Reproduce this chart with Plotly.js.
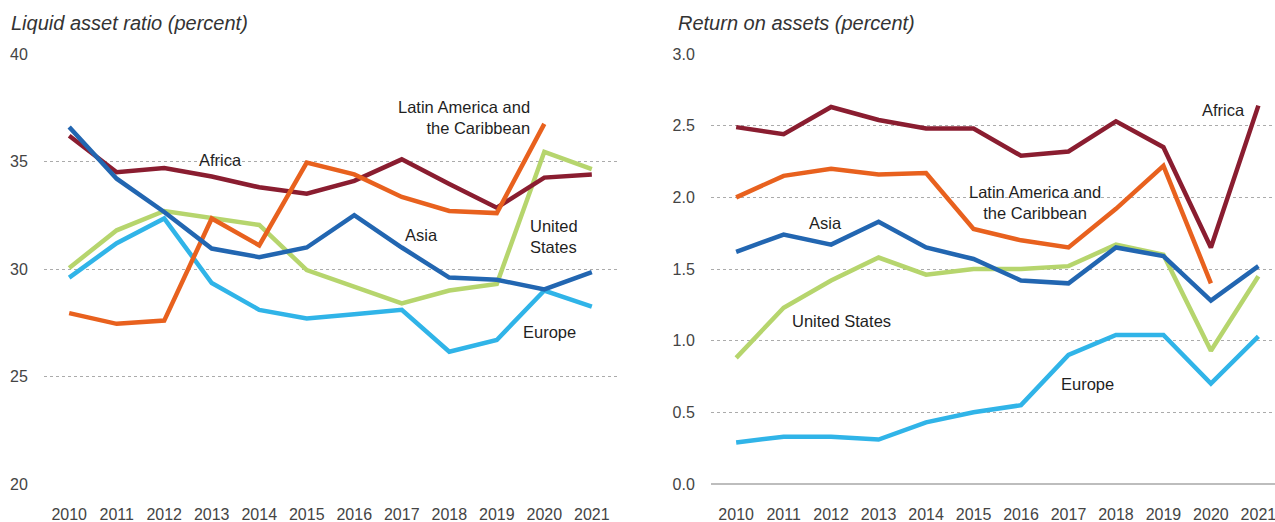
<!DOCTYPE html>
<html>
<head>
<meta charset="utf-8">
<script src="https://cdn.plot.ly/plotly-3.0.1.min.js"></script>
<style>html,body{margin:0;padding:0;background:#fff}#chart{width:1275px;height:522px}</style>
</head>
<body>
<div id="chart"></div>
<script>
const years = [2010,2011,2012,2013,2014,2015,2016,2017,2018,2019,2020,2021];

// Liquid asset ratio (percent)
const liqAfrica = [36.2,34.5,34.7,34.3,33.8,33.5,34.1,35.1,33.95,32.85,34.25,34.4];
const liqLatAm  = [27.95,27.45,27.6,32.35,31.1,34.95,34.4,33.35,32.7,32.6,36.75,null];
const liqAsia   = [36.6,34.2,32.65,30.95,30.55,31.0,32.5,31.0,29.6,29.5,29.05,29.85];
const liqUS     = [30.05,31.8,32.7,32.35,32.05,29.95,29.2,28.4,29.0,29.3,35.45,34.65];
const liqEurope = [29.6,31.2,32.35,29.35,28.1,27.7,27.9,28.1,26.15,26.7,29.0,28.25];

// Return on assets (percent)
const roaAfrica = [2.49,2.44,2.63,2.54,2.48,2.48,2.29,2.32,2.53,2.35,1.65,2.64];
const roaLatAm  = [2.0,2.15,2.2,2.16,2.17,1.78,1.7,1.65,1.92,2.22,1.4,null];
const roaAsia   = [1.62,1.74,1.67,1.83,1.65,1.57,1.42,1.40,1.65,1.59,1.28,1.52];
const roaUS     = [0.88,1.23,1.42,1.58,1.46,1.50,1.50,1.52,1.67,1.60,0.93,1.45];
const roaEurope = [0.29,0.33,0.33,0.31,0.43,0.50,0.55,0.90,1.04,1.04,0.70,1.03];

const colors = {
  Africa: '#8a1d30',
  LatAm: '#e8611e',
  Asia: '#2266b1',
  US: '#b6d56d',
  Europe: '#30b4e8'
};

function tr(y, c, xa, ya){
  return {x: years, y: y, type: 'scatter', mode: 'lines', xaxis: xa, yaxis: ya,
          line: {color: c, width: 4.5}, hoverinfo: 'skip', showlegend: false};
}

const data = [
  tr(liqEurope, colors.Europe, 'x', 'y'),
  tr(liqUS, colors.US, 'x', 'y'),
  tr(liqAfrica, colors.Africa, 'x', 'y'),
  tr(liqLatAm, colors.LatAm, 'x', 'y'),
  tr(liqAsia, colors.Asia, 'x', 'y'),
  tr(roaEurope, colors.Europe, 'x2', 'y2'),
  tr(roaUS, colors.US, 'x2', 'y2'),
  tr(roaAfrica, colors.Africa, 'x2', 'y2'),
  tr(roaLatAm, colors.LatAm, 'x2', 'y2'),
  tr(roaAsia, colors.Asia, 'x2', 'y2')
];

const W = 1275, H = 522;
const tickFont = {family: 'Liberation Sans, Arial, sans-serif', size: 16, color: '#444'};
const labFont = {family: 'Liberation Sans, Arial, sans-serif', size: 16.5, color: '#1f1f1f'};
const yDom = [(H-484)/H, (H-54)/H];

const xBase = {
  tickmode: 'array', tickvals: years, ticktext: years.map(String),
  showgrid: false, zeroline: false, showline: false,
  ticks: 'outside', ticklen: 16, tickcolor: 'rgba(0,0,0,0)',
  tickfont: tickFont, fixedrange: true, ticklabeloverflow: 'allow'
};
const yBase = {
  showgrid: true, gridcolor: '#ababab', gridwidth: 1, griddash: '3px,3px',
  showline: false, ticks: 'outside', ticklen: 12, tickcolor: 'rgba(0,0,0,0)',
  tickfont: tickFont, fixedrange: true
};

function ann(text, x, y, xanchor, align){
  return {text: text, x: x, y: y, xref: 'paper', yref: 'paper', xanchor: xanchor, yanchor: 'middle',
          align: align, showarrow: false, font: labFont};
}
function px(xp){ return xp / W; }
function py(yp){ return (H - yp) / H; }

const titleFont = {family: 'Liberation Sans, Arial, sans-serif', size: 20, color: '#333', style: 'italic'};

const annotations = [
  {text: '<i>Liquid asset ratio (percent)</i>', x: px(9), y: py(23), xref: 'paper', yref: 'paper',
   xanchor: 'left', yanchor: 'middle', showarrow: false, font: titleFont},
  {text: '<i>Return on assets (percent)</i>', x: px(676), y: py(23), xref: 'paper', yref: 'paper',
   xanchor: 'left', yanchor: 'middle', showarrow: false, font: titleFont},
  // left panel labels
  ann('Africa', px(220), py(160), 'center', 'center'),
  ann('Latin America and<br>the Caribbean', px(532), py(117), 'right', 'right'),
  ann('Asia', px(421), py(235), 'center', 'center'),
  ann('United<br>States', px(528), py(237), 'left', 'left'),
  ann('Europe', px(549), py(332), 'center', 'center'),
  // right panel labels
  ann('Africa', px(1223), py(110), 'center', 'center'),
  ann('Latin America and<br>the Caribbean', px(1035), py(203), 'center', 'center'),
  ann('Asia', px(825), py(223), 'center', 'center'),
  ann('United States', px(841), py(321), 'center', 'center'),
  ann('Europe', px(1087), py(384), 'center', 'center')
];

const layout = {
  width: W, height: H,
  margin: {l: 0, r: 0, t: 0, b: 0},
  paper_bgcolor: '#fff', plot_bgcolor: '#fff',
  showlegend: false,
  xaxis: Object.assign({}, xBase, {domain: [px(44), px(617)], range: [2009.47, 2021.53], anchor: 'y'}),
  yaxis: Object.assign({}, yBase, {domain: yDom, range: [20, 40], tickvals: [20,25,30,35,40], zeroline: false, anchor: 'x'}),
  xaxis2: Object.assign({}, xBase, {domain: [px(711), 1], range: [2009.47, 2021.35], anchor: 'y2'}),
  yaxis2: Object.assign({}, yBase, {domain: yDom, range: [0, 3], tickvals: [0,0.5,1,1.5,2,2.5,3],
           tickformat: '.1f', zeroline: true, zerolinecolor: '#bdbdbd', zerolinewidth: 1.5, anchor: 'x2'}),
  annotations: annotations
};

Plotly.newPlot('chart', data, layout, {displayModeBar: false, staticPlot: true});
</script>
</body>
</html>
